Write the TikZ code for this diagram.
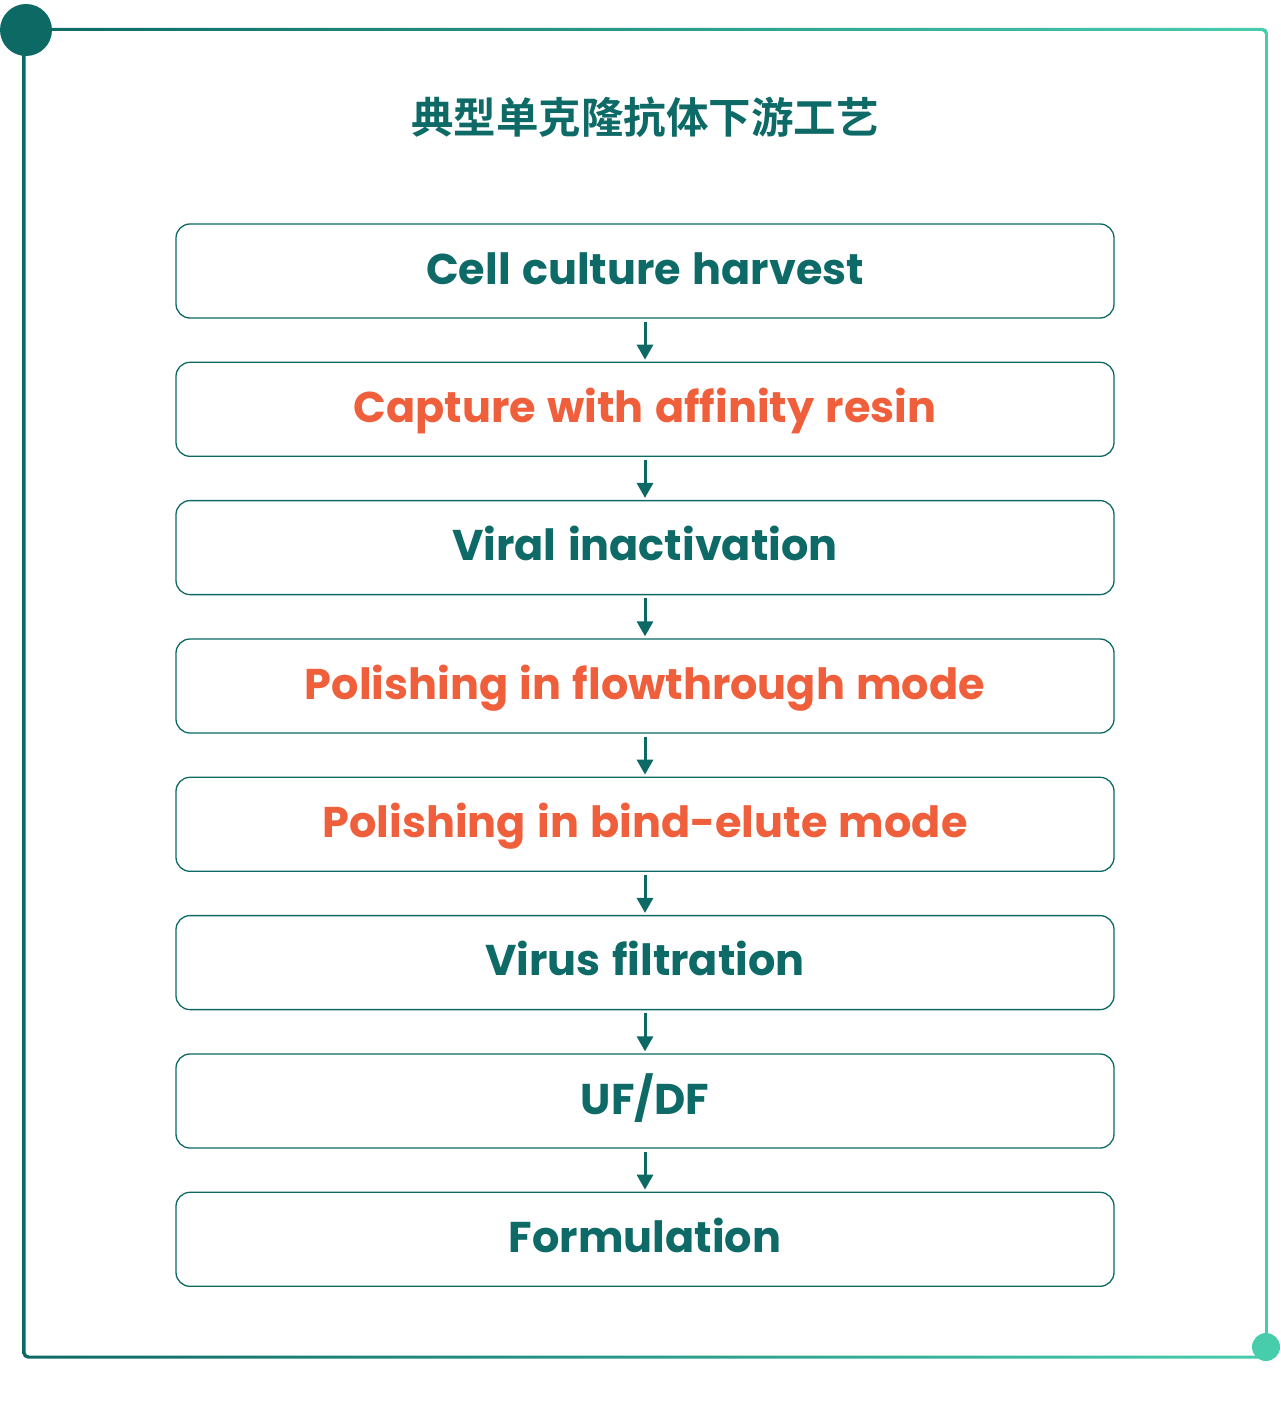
\documentclass[tikz,border=0pt]{standalone}
\usepackage{fontspec}
\usetikzlibrary{arrows.meta}
\newfontfamily\enfont{Poppins}[BoldFont={Poppins Bold}, Ligatures=NoCommon, WordSpace=1.25]
\newfontfamily\cjkfont{Noto Sans CJK SC}[BoldFont={Noto Sans CJK SC Bold}]
\definecolor{tealdark}{HTML}{0D6964}
\definecolor{teallight}{HTML}{48CDAC}
\definecolor{txtteal}{HTML}{0E6A66}
\definecolor{txtorange}{HTML}{EF5F3B}
\tikzset{
  stepbox/.style={draw=tealdark, line width=1.3pt, rounded corners=14pt,
    minimum width=938pt, minimum height=94pt, inner sep=0pt,
    text height=36pt, text depth=10pt,
    font=\enfont\bfseries\fontsize{43}{50}\selectfont},
  tealtext/.style={text=txtteal},
  orangetext/.style={text=txtorange},
  flowarrow/.style={draw=tealdark, line width=3pt,
    -{Triangle[width=16pt,length=15pt]}, shorten <=3pt, shorten >=2pt}
}
\begin{document}
\begin{tikzpicture}[x=1pt,y=-1pt]
\useasboundingbox (0,0) rectangle (1280,1415);
% frame ring with horizontal gradient
\shade[left color=tealdark, right color=teallight, even odd rule]
  [rounded corners=5pt] (22.5,28) rectangle (1268,1358.5)
  [rounded corners=3.5pt] (25.5,31) rectangle (1265,1355.5);
\fill[tealdark] (26,30) circle (26);
\fill[teallight] (1266,1347) circle (14);
% title
\node (title) at (645,117) {\cjkfont\bfseries\fontsize{42.5}{46}\selectfont\color{txtteal}典型单克隆抗体下游工艺};
% boxes
\node[stepbox,tealtext]   (b1) at (645,271)   {Cell culture harvest};
\node[stepbox,orangetext] (b2) at (645,409.3) {Capture with affinity resin};
\node[stepbox,tealtext]   (b3) at (645,547.6) {Viral inactivation};
\node[stepbox,orangetext] (b4) at (645,686)   {Polishing in flowthrough mode};
\node[stepbox,orangetext] (b5) at (645,824.3) {Polishing in bind-elute mode};
\node[stepbox,tealtext]   (b6) at (645,962.6) {Virus filtration};
\node[stepbox,tealtext]   (b7) at (645,1101)  {UF/DF};
\node[stepbox,tealtext]   (b8) at (645,1239.3){Formulation};
% arrows
\foreach \a/\b in {b1/b2,b2/b3,b3/b4,b4/b5,b5/b6,b6/b7,b7/b8}
  \draw[flowarrow] (\a.south) -- (\b.north);
\end{tikzpicture}
\end{document}
